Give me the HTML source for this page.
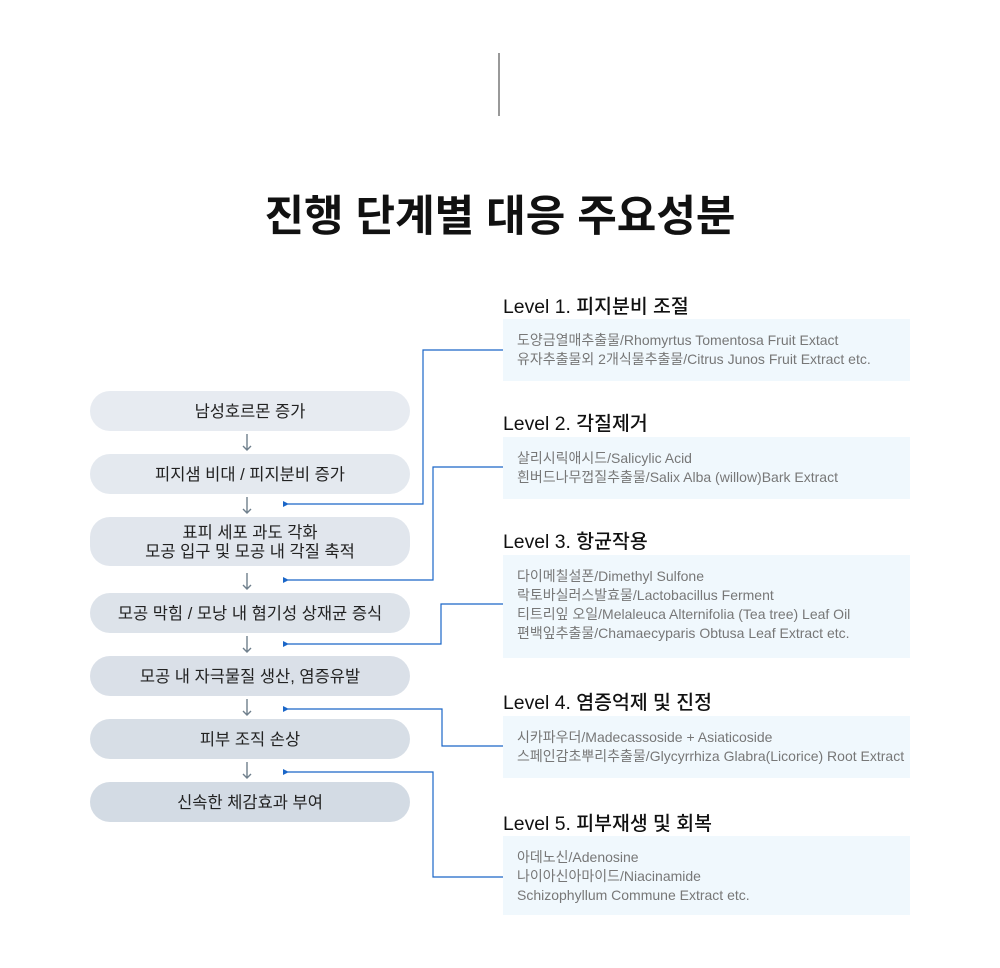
<!DOCTYPE html>
<html><head><meta charset="utf-8"><style>
body{margin:0;width:1000px;height:968px;background:#fff;position:relative;font-family:"Liberation Sans","Noto Sans CJK KR",sans-serif;overflow:hidden}
.a{position:absolute}
.pill{position:absolute;left:90px;width:320px;border-radius:20px;display:flex;align-items:center;justify-content:center;text-align:center;font-size:16.5px;color:#222;line-height:19px;padding-top:2px;box-sizing:border-box}
.t{position:absolute;left:503px;font-size:19.4px;color:#111;font-weight:500}
.bx{position:absolute;left:503px;width:407px;background:#f0f8fd;font-size:14px;color:#777;line-height:19px;box-sizing:border-box;padding:12px 0 0 14px;white-space:nowrap}
</style></head><body>
<div class="a" style="left:498px;top:53px;width:2px;height:63px;background:#999"></div>
<div class="a" style="left:0;width:1000px;top:182px;text-align:center;font-size:43px;font-weight:bold;color:#111">진행 단계별 대응 주요성분</div>

<div class="pill" style="top:391px;height:40px;background:#e7ebf1">남성호르몬 증가</div>
<div class="pill" style="top:454px;height:40px;background:#e4e9ef">피지샘 비대 / 피지분비 증가</div>
<div class="pill" style="top:517px;height:49px;background:#e1e6ed">표피 세포 과도 각화<br>모공 입구 및 모공 내 각질 축적</div>
<div class="pill" style="top:593px;height:40px;background:#dde3ea">모공 막힘 / 모낭 내 혐기성 상재균 증식</div>
<div class="pill" style="top:656px;height:40px;background:#dae0e8">모공 내 자극물질 생산, 염증유발</div>
<div class="pill" style="top:719px;height:40px;background:#d7dee6">피부 조직 손상</div>
<div class="pill" style="top:782px;height:40px;background:#d3dbe4">신속한 체감효과 부여</div>

<svg class="a" style="left:0;top:0" width="1000" height="968">
<defs>
<marker id="b" markerWidth="8" markerHeight="8" refX="1" refY="4" orient="auto" markerUnits="userSpaceOnUse"><path d="M6,1 L0,4 L6,7 Z" fill="#1a66c8"/></marker></defs>
<g stroke="#6f7f8c" stroke-width="1.4" fill="none">
<path d="M247,434V450M243,446L247,450L251,446"/>
<path d="M247,497V513M243,509L247,513L251,509"/>
<path d="M247,573V589M243,585L247,589L251,585"/>
<path d="M247,636V652M243,648L247,652L251,648"/>
<path d="M247,699V715M243,711L247,715L251,711"/>
<path d="M247,762V778M243,774L247,778L251,774"/>
</g>
<g stroke="#1a66c8" stroke-width="1.2" fill="none">
<polyline points="503,350 423,350 423,504 288,504" marker-end="url(#b)"/>
<polyline points="503,467 433,467 433,580 288,580" marker-end="url(#b)"/>
<polyline points="503,604 441,604 441,644 288,644" marker-end="url(#b)"/>
<polyline points="503,746 442,746 442,709 288,709" marker-end="url(#b)"/>
<polyline points="503,877 433,877 433,772 288,772" marker-end="url(#b)"/>
</g>
</svg>

<div class="t" style="top:290px">Level 1. 피지분비 조절</div>
<div class="bx" style="top:319px;height:62px">도양금열매추출물/Rhomyrtus Tomentosa Fruit Extact<br>유자추출물외 2개식물추출물/Citrus Junos Fruit Extract etc.</div>
<div class="t" style="top:407px">Level 2. 각질제거</div>
<div class="bx" style="top:437px;height:62px">살리시릭애시드/Salicylic Acid<br>흰버드나무껍질추출물/Salix Alba (willow)Bark Extract</div>
<div class="t" style="top:525px">Level 3. 항균작용</div>
<div class="bx" style="top:555px;height:103px">다이메칠설폰/Dimethyl Sulfone<br>락토바실러스발효물/Lactobacillus Ferment<br>티트리잎 오일/Melaleuca Alternifolia (Tea tree) Leaf Oil<br>편백잎추출물/Chamaecyparis Obtusa Leaf Extract etc.</div>
<div class="t" style="top:686px">Level 4. 염증억제 및 진정</div>
<div class="bx" style="top:716px;height:62px">시카파우더/Madecassoside + Asiaticoside<br>스페인감초뿌리추출물/Glycyrrhiza Glabra(Licorice) Root Extract</div>
<div class="t" style="top:807px">Level 5. 피부재생 및 회복</div>
<div class="bx" style="top:836px;height:79px">아데노신/Adenosine<br>나이아신아마이드/Niacinamide<br>Schizophyllum Commune Extract etc.</div>
</body></html>
